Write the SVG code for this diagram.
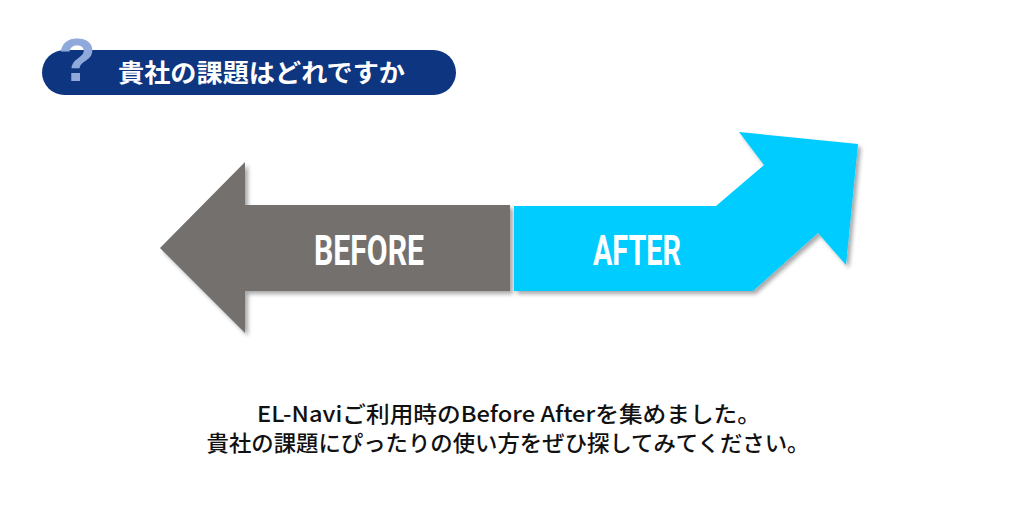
<svg xmlns="http://www.w3.org/2000/svg" width="1024" height="518" viewBox="0 0 1024 518">
<defs>
<filter id="sh" x="-10%" y="-10%" width="130%" height="130%">
<feGaussianBlur in="SourceAlpha" stdDeviation="2"/>
<feOffset dx="3" dy="3" result="b"/>
<feComponentTransfer><feFuncA type="linear" slope="0.35"/></feComponentTransfer>
<feMerge><feMergeNode/><feMergeNode in="SourceGraphic"/></feMerge>
</filter>
</defs>
<style>
.jp{font-family:"Noto Sans CJK JP","Noto Sans",sans-serif;}
.lbl{font-family:"Liberation Sans Narrow","Roboto","DejaVu Sans Condensed",sans-serif;font-weight:bold;fill:#fff;font-size:42px;}
</style>
<rect width="1024" height="518" fill="#fff"/>
<g id="title">
<rect x="42" y="50" width="414" height="45" rx="22.5" fill="#0d3580"/>
<text x="77" y="81" text-anchor="middle" font-family="Liberation Sans, sans-serif" font-weight="bold" font-size="62" fill="#8fa9da">?</text>
<text x="118" y="82" class="jp" font-weight="bold" font-size="25" fill="#fff" textLength="287" lengthAdjust="spacingAndGlyphs">貴社の課題はどれですか</text>
</g>
<g id="before">
<polygon points="160,248 245,162 245,205 510,205 510,291 245,291 245,333" fill="#736f6d" filter="url(#sh)"/>
<text x="369" y="265" text-anchor="middle" class="lbl" textLength="110" lengthAdjust="spacingAndGlyphs">BEFORE</text>
</g>
<g id="after">
<polygon points="514,206 716,206 764,165 739,132 858,144 846,265 818,233 753,291 514,291" fill="#00ccff" filter="url(#sh)"/>
<text x="637" y="265" text-anchor="middle" class="lbl" textLength="88" lengthAdjust="spacingAndGlyphs">AFTER</text>
</g>
<g id="caption" class="jp" font-weight="500" font-size="22" fill="#111" text-anchor="middle">
<text x="509" y="422" textLength="504" lengthAdjust="spacingAndGlyphs">EL-Naviご利用時のBefore Afterを集めました。</text>
<text x="508" y="451" textLength="603" lengthAdjust="spacingAndGlyphs">貴社の課題にぴったりの使い方をぜひ探してみてください。</text>
</g>
</svg>
